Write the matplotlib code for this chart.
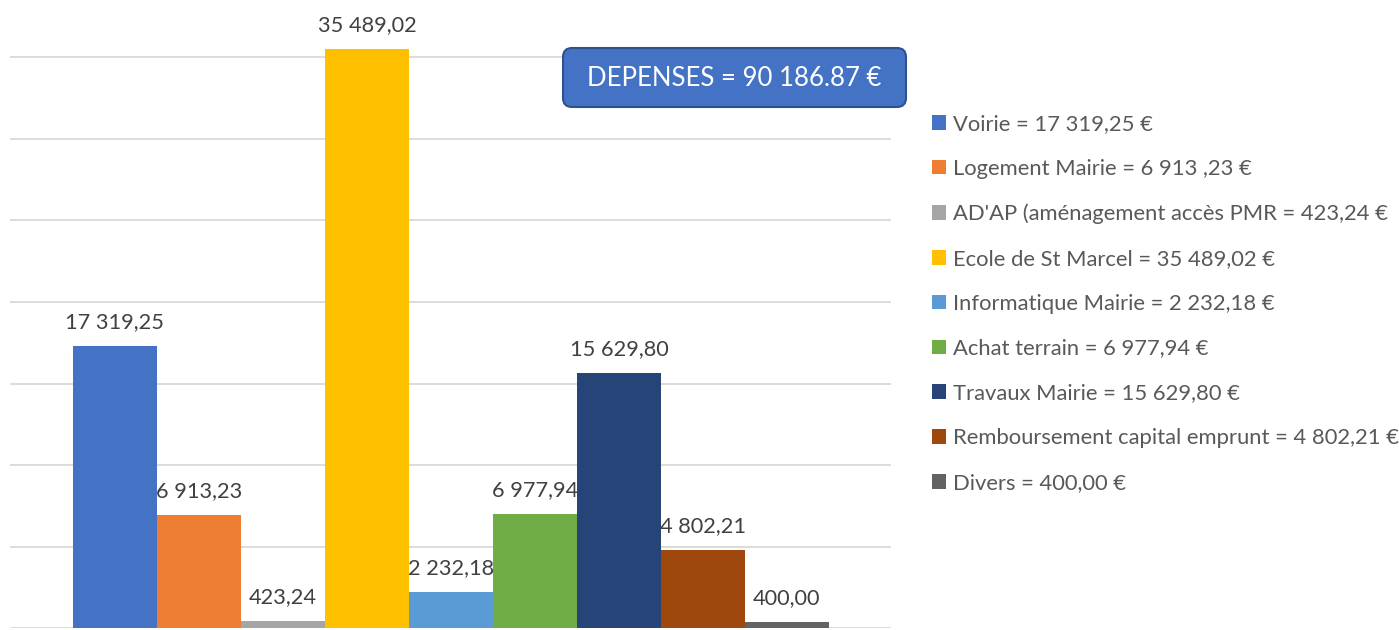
import matplotlib
matplotlib.use("Agg")
import matplotlib.pyplot as plt
from matplotlib.patches import Patch, FancyBboxPatch

plt.rcParams['font.family'] = ['Lato', 'DejaVu Sans']

names = ["Voirie", "Logement Mairie", "AD'AP (aménagement accès PMR",
         "Ecole de St Marcel", "Informatique Mairie", "Achat terrain",
         "Travaux Mairie", "Remboursement capital emprunt", "Divers"]
values = [17319.25, 6913.23, 423.24, 35489.02, 2232.18, 6977.94,
          15629.80, 4802.21, 400.00]
legend_amounts = ["17 319,25", "6 913 ,23", "423,24", "35 489,02", "2 232,18",
                  "6 977,94", "15 629,80", "4 802,21", "400,00"]
colors = ["#4472C4", "#ED7D31", "#A5A5A5", "#FFC000", "#5B9BD5",
          "#70AD47", "#264478", "#9E480E", "#636363"]
title = "DEPENSES = 90 186.87 €"


def fr(v):
    return f"{v:,.2f}".replace(",", " ").replace(".", ",")


fig = plt.figure(figsize=(13.99, 6.3), dpi=100)
ax = fig.add_axes([10 / 1399, 1.7 / 630, 881 / 1399, 1 - 1.7 / 630])

x = list(range(len(values)))
bars = ax.bar(x, values, width=1.0, color=colors, zorder=2)
ax.bar_label(bars, labels=[fr(v) for v in values], padding=10,
             fontsize=15.7, color="#404040")

ax.set_xlim(-1.25, 9.24)
ax.set_ylim(0, 38500)
ax.set_yticks(range(0, 40000, 5000))
ax.grid(axis="y", color="#D9D9D9", linewidth=1.3, zorder=0)
ax.tick_params(left=False, bottom=False, labelleft=False, labelbottom=False)
for s in ax.spines.values():
    s.set_visible(False)

# title box
box = FancyBboxPatch((5.63, 5.23), 3.43, 0.59,
                     boxstyle="round,pad=0,rounding_size=0.09",
                     transform=fig.dpi_scale_trans, facecolor="#4472C4",
                     edgecolor="#2F528F", linewidth=1.5, zorder=5)
fig.add_artist(box)
fig.text(734.5 / 1399, 1 - 78 / 630, title, color="white", fontsize=18.5,
         ha="center", va="center", zorder=6)

handles = [Patch(facecolor=c, edgecolor="none") for c in colors]
labels = [f"{n} = {a} €" for n, a in zip(names, legend_amounts)]
fig.legend(handles, labels, loc="upper left",
           bbox_to_anchor=(932 / 1399, 1 - 114 / 630), frameon=False,
           fontsize=15.8, labelcolor="#595959", handlelength=0.65,
           handleheight=0.65, handletextpad=0.3, labelspacing=1.13,
           borderpad=0, borderaxespad=0)

fig.savefig("out.png", dpi=100)
